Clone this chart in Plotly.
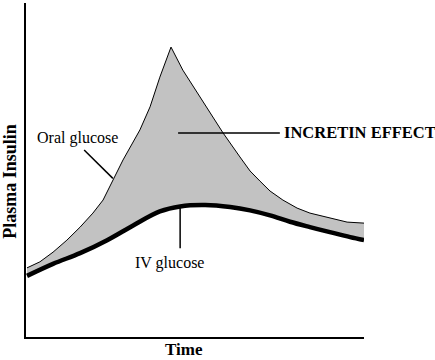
import plotly.graph_objects as go

# Oral glucose insulin response (time 0-100, insulin 0-100 arbitrary units)
oral_time = [0.3, 4.1, 8.0, 12.1, 16.0, 19.8, 22.8, 25.7, 28.7, 33.7, 36.7, 39.6, 41.7,
             42.9, 46.4, 51.5, 58.3, 63.3, 66.3, 69.2, 72.2, 76.0, 80.2, 84.0, 89.9,
             95.0, 100]
oral_insulin = [20.7, 22.5, 25.4, 29.0, 32.9, 37.1, 41.0, 47.0, 53.0, 62.0, 68.9, 77.8,
                83.8, 86.8, 79.9, 71.9, 61.1, 53.9, 49.7, 46.7, 43.7, 41.0, 38.6, 37.1,
                35.6, 34.4, 34.1]

# IV glucose insulin response
iv_time = [0.3, 8.0, 16.0, 24.0, 31.7, 39.6, 45.6, 53.0, 60.4, 66.3, 72.2, 78.1, 84.0,
           89.9, 95.9, 100]
iv_insulin = [18.3, 21.9, 25.1, 29.0, 33.4, 37.6, 39.1, 39.5, 38.9, 37.9, 36.4, 34.5,
              32.9, 31.4, 29.9, 29.0]

# Labels: (text, x, y) and leader lines (x0, y0, x1, y1)
oral_label = ("Oral glucose", 15.1, 59.6)
oral_leader = (17.2, 56.0, 25.7, 47.5)
incretin_label = ("INCRETIN EFFECT", 75.7, 61.1)
incretin_leader = (45.0, 61.1, 75.1, 61.1)
iv_label = ("IV glucose", 42.6, 22.3)
iv_leader = (45.6, 39.0, 45.6, 26.6)

SERIF = "Liberation Serif, Times New Roman, serif"

fig = go.Figure()
fig.add_trace(go.Scatter(x=iv_time, y=iv_insulin, mode="lines",
                         line=dict(color="black", width=0, shape="spline"),
                         hoverinfo="skip", showlegend=False))
fig.add_trace(go.Scatter(x=oral_time, y=oral_insulin, mode="lines", fill="tonexty",
                         fillcolor="#c2c2c2", line=dict(color="black", width=1),
                         showlegend=False))
fig.add_trace(go.Scatter(x=iv_time, y=iv_insulin, mode="lines",
                         line=dict(color="black", width=4.5, shape="spline"),
                         showlegend=False))

for (x0, y0, x1, y1) in [oral_leader, incretin_leader, iv_leader]:
    fig.add_shape(type="line", x0=x0, y0=y0, x1=x1, y1=y1, xref="x", yref="y",
                  line=dict(color="black", width=1.5))

fig.add_annotation(text=oral_label[0], x=oral_label[1], y=oral_label[2], xref="x", yref="y",
                   xanchor="center", yanchor="middle", showarrow=False,
                   font=dict(family=SERIF, size=16, color="black"))
fig.add_annotation(text="<b>" + incretin_label[0] + "</b>", x=incretin_label[1],
                   y=incretin_label[2], xref="x", yref="y", xanchor="left",
                   yanchor="middle", showarrow=False,
                   font=dict(family=SERIF, size=16.5, color="black"))
fig.add_annotation(text=iv_label[0], x=iv_label[1], y=iv_label[2], xref="x", yref="y",
                   xanchor="center", yanchor="middle", showarrow=False,
                   font=dict(family=SERIF, size=16, color="black"))

fig.add_annotation(text="<b>Plasma Insulin</b>", x=-0.047, y=0.465, xref="paper",
                   yref="paper", xanchor="center", yanchor="middle", textangle=-90,
                   showarrow=False, font=dict(family=SERIF, size=18, color="black"))
fig.add_annotation(text="<b>Time</b>", x=0.467, y=-0.036, xref="paper", yref="paper",
                   xanchor="center", yanchor="middle", showarrow=False,
                   font=dict(family=SERIF, size=17, color="black"))

fig.update_xaxes(range=[0, 100], showline=True, linecolor="black", linewidth=1.5,
                 showgrid=False, zeroline=False, showticklabels=False, ticks="")
fig.update_yaxes(range=[0, 100], showline=True, linecolor="black", linewidth=1.5,
                 showgrid=False, zeroline=False, showticklabels=False, ticks="")
fig.update_layout(width=435, height=360, margin=dict(l=26, r=71, t=3, b=23),
                  plot_bgcolor="white", paper_bgcolor="white")

fig.write_html("out.html")
